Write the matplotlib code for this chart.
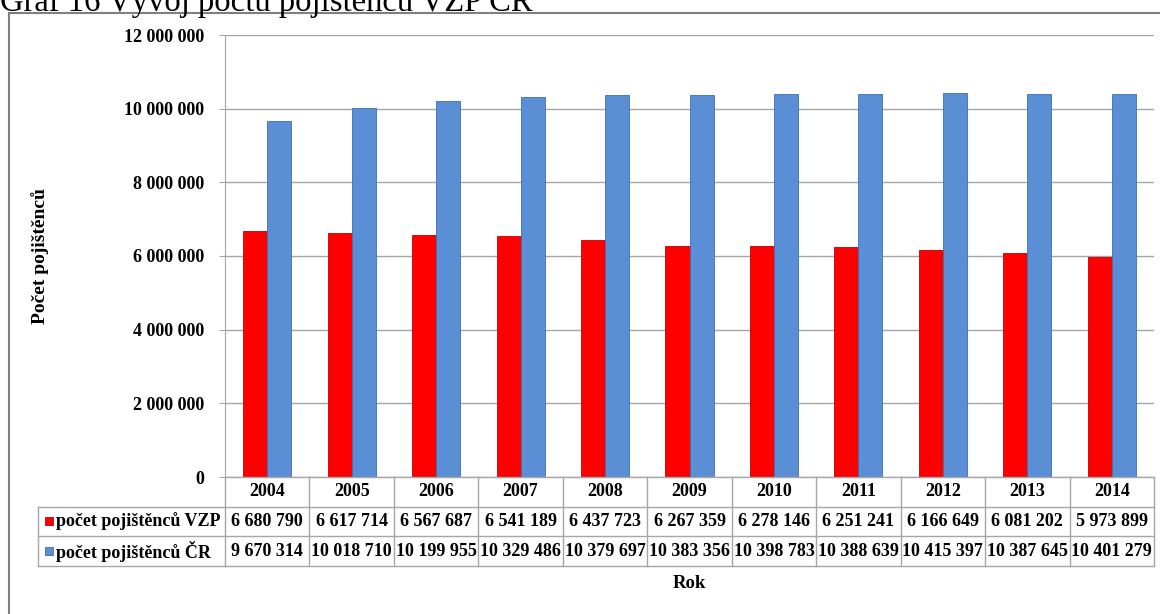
import matplotlib.pyplot as plt
import matplotlib.transforms as mtransforms
from matplotlib.patches import Rectangle
from matplotlib.lines import Line2D
import numpy as np

plt.rcParams['font.family'] = ['Liberation Serif', 'DejaVu Serif']

# data
years = ['2004', '2005', '2006', '2007', '2008', '2009', '2010', '2011', '2012', '2013', '2014']
vzp = [6680790, 6617714, 6567687, 6541189, 6437723, 6267359, 6278146, 6251241, 6166649, 6081202, 5973899]
cr = [9670314, 10018710, 10199955, 10329486, 10379697, 10383356, 10398783, 10388639, 10415397, 10387645, 10401279]
series_names = ['počet pojištěnců VZP', 'počet pojištěnců ČR']
yticks = [0, 2000000, 4000000, 6000000, 8000000, 10000000, 12000000]

W, H = 1160, 614
fig = plt.figure(figsize=(W / 100, H / 100), dpi=100)

def fx(px):
    return px / W

def fy(py):
    return 1 - py / H

# plot area in pixels
left, right, top, bottom = 225, 1154, 35, 477
ax = fig.add_axes([fx(left), fy(bottom), fx(right - left), (bottom - top) / H])

red = '#FF0000'
blue = '#5A8FD6'
grid_c = '#A6A6A6'
x = np.arange(len(years))
bw = 0.285
ax.bar(x - bw / 2, vzp, bw, color=red, edgecolor='#C00000', linewidth=0.6, zorder=3)
ax.bar(x + bw / 2, cr, bw, color=blue, edgecolor='#3D6FB0', linewidth=0.6, zorder=3)

ax.set_xlim(-0.5, len(years) - 0.5)
ax.set_ylim(0, 12000000)
ax.set_yticks(yticks)
ax.set_yticklabels([f'{v:,}'.replace(',', ' ') for v in yticks],
                   fontsize=13, fontweight='bold')
ax.tick_params(axis='y', length=4, color=grid_c, pad=11)
ax.set_xticks([])
ax.yaxis.grid(True, color=grid_c, linewidth=1)
ax.set_axisbelow(True)
for s in ['top', 'right', 'bottom']:
    ax.spines[s].set_visible(False)
ax.spines['left'].set_color(grid_c)

ax.set_ylabel('Počet pojištěnců', fontsize=14, fontweight='bold')
ax.yaxis.set_label_coords((49 - left) / (right - left), 0.5)

# data table under the plot
trans = mtransforms.blended_transform_factory(ax.transData, fig.transFigure)
rows = [477, 506.5, 536, 566]
lx = 38
for i, yy in enumerate(rows):
    fig.add_artist(Line2D([-0.5, len(years) - 0.5], [fy(yy), fy(yy)], transform=trans,
                          color=grid_c, linewidth=1))
    if i >= 1:
        fig.add_artist(Line2D([fx(lx), fx(left)], [fy(yy), fy(yy)],
                              transform=fig.transFigure, color=grid_c, linewidth=1))
for k in range(len(years) + 1):
    fig.add_artist(Line2D([k - 0.5, k - 0.5], [fy(rows[0]), fy(rows[-1])], transform=trans,
                          color=grid_c, linewidth=1))
fig.add_artist(Line2D([fx(lx), fx(lx)], [fy(rows[1]), fy(rows[-1])],
                      transform=fig.transFigure, color=grid_c, linewidth=1))

tkw = dict(fontsize=13, fontweight='bold', ha='center', va='center')
for k, yr in enumerate(years):
    fig.text(k, fy((rows[0] + rows[1]) / 2), yr, transform=trans, **tkw)
    fig.text(k, fy((rows[1] + rows[2]) / 2), f'{vzp[k]:,}'.replace(',', ' '), transform=trans, **tkw)
    fig.text(k, fy((rows[2] + rows[3]) / 2), f'{cr[k]:,}'.replace(',', ' '), transform=trans, **tkw)

for r, (name, col, ec) in enumerate(zip(series_names, [red, blue], ['#C00000', '#3D6FB0'])):
    yc = (rows[r + 1] + rows[r + 2]) / 2
    fig.add_artist(Rectangle((fx(45), fy(yc + 4)), fx(8), 8 / H, transform=fig.transFigure,
                             facecolor=col, edgecolor=ec, linewidth=0.6))
    fig.text(fx(56), fy(yc), name, fontsize=13, fontweight='bold', ha='left', va='center')

fig.text(fx((left + right) / 2), fy(584), 'Rok', fontsize=13.5, fontweight='bold',
         ha='center', va='center')

# outer frame and caption (caption is cut by the top edge, as in the source)
fig.add_artist(Rectangle((fx(9), fy(H + 10)), fx(W + 10), (H + 10 - 13) / H,
                         transform=fig.transFigure, fill=False, edgecolor='#7F7F7F', linewidth=1.5))
fig.text(fx(0), fy(11.5), 'Graf 16 Vývoj počtu pojištěnců VZP ČR', fontsize=23.5,
         ha='left', va='baseline')

fig.savefig('out.png', dpi=100)
